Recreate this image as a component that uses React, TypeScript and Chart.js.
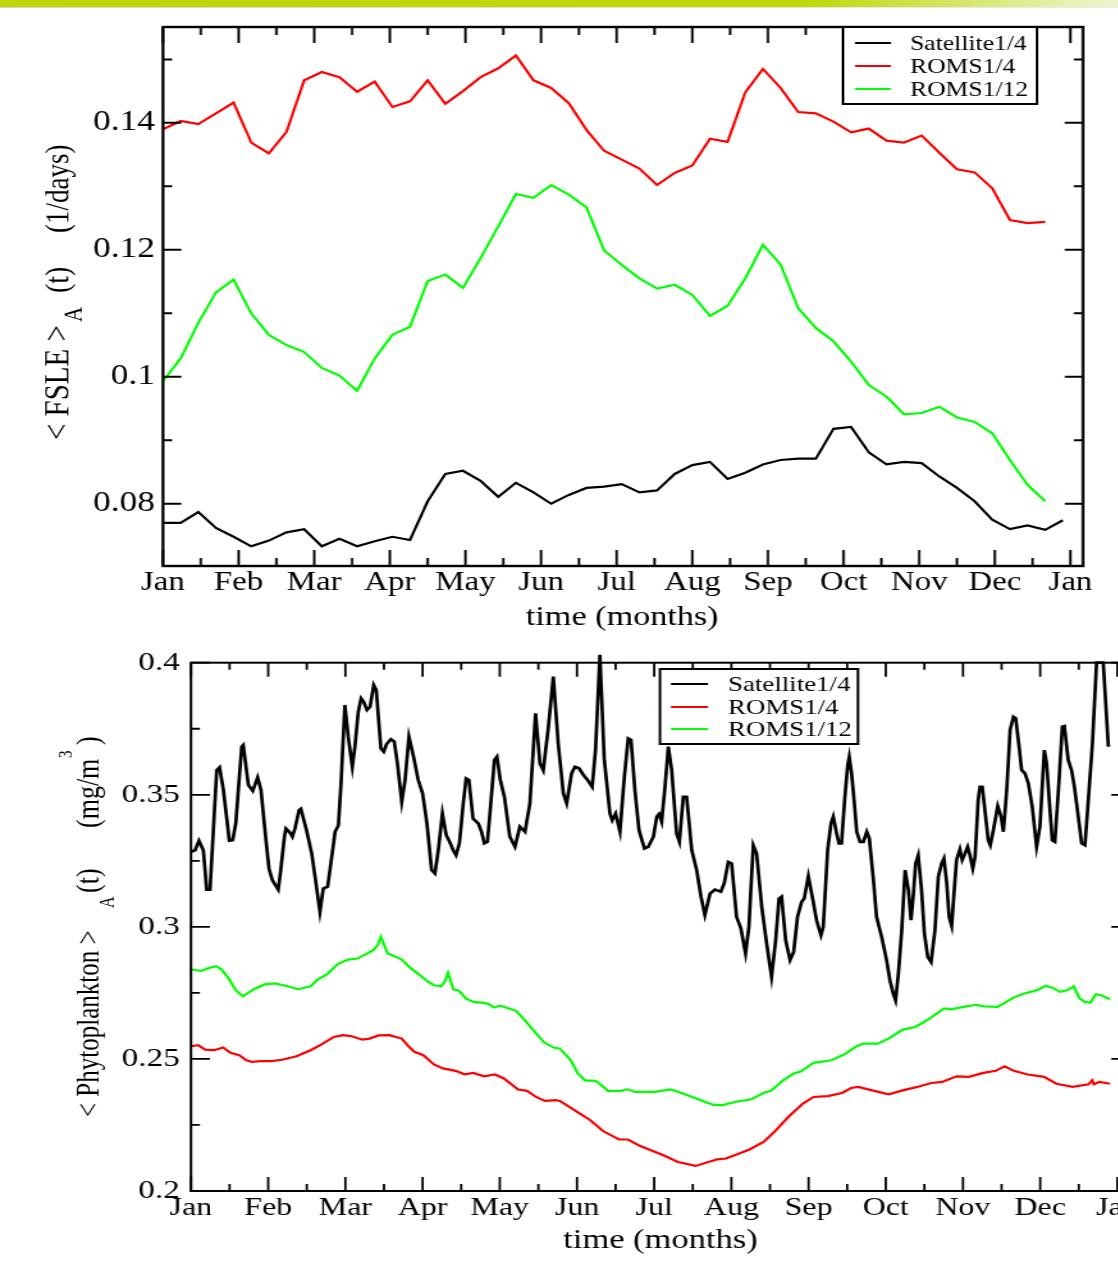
import React, { useEffect, useRef } from 'react';
import { Chart, registerables } from 'chart.js';

Chart.register(...registerables);

const FONT = '"Liberation Serif", "Times New Roman", Times, serif';

// ---------- shared axis data ----------
const monthLabels = ['Jan', 'Feb', 'Mar', 'Apr', 'May', 'Jun', 'Jul', 'Aug', 'Sep', 'Oct', 'Nov', 'Dec', 'Jan'];
const monthDays = [0, 30, 60, 90, 120, 150, 180, 210, 240, 270, 300, 330, 360];
const halfMonthDays = [15, 45, 75, 105, 135, 165, 195, 225, 255, 285, 315, 345];

// ---------- top chart: FSLE (weekly) ----------
const fsleWeekDays = [0, 7, 14, 21, 28, 35, 42, 49, 56, 63, 70, 77, 84, 91, 98, 105, 112, 119, 126, 133, 140, 147, 154, 161, 168, 175, 182, 189, 196, 203, 210, 217, 224, 231, 238, 245, 252, 259, 266, 273, 280, 287, 294, 301, 308, 315, 322, 329, 336, 343, 350, 357];
const fsleSatellite = [0.0770, 0.0770, 0.0787, 0.0762, 0.0748, 0.0733, 0.0742, 0.0755, 0.0760, 0.0733, 0.0745, 0.0733, 0.0741, 0.0748, 0.0743, 0.0804, 0.0847, 0.0852, 0.0836, 0.0811, 0.0833, 0.0818, 0.0800, 0.0814, 0.0825, 0.0827, 0.0831, 0.0818, 0.0821, 0.0847, 0.0861, 0.0866, 0.0839, 0.0849, 0.0862, 0.0869, 0.0871, 0.0871, 0.0918, 0.0921, 0.0881, 0.0862, 0.0866, 0.0864, 0.0843, 0.0825, 0.0804, 0.0775, 0.0760, 0.0766, 0.0759, 0.0774];
const fsleRoms4 = [0.1390, 0.1403, 0.1398, 0.1415, 0.1432, 0.1369, 0.1352, 0.1386, 0.1467, 0.1480, 0.1472, 0.1449, 0.1465, 0.1425, 0.1434, 0.1467, 0.1430, 0.1450, 0.1472, 0.1486, 0.1506, 0.1467, 0.1455, 0.1431, 0.1389, 0.1356, 0.1342, 0.1328, 0.1302, 0.1321, 0.1333, 0.1375, 0.1370, 0.1448, 0.1485, 0.1455, 0.1417, 0.1415, 0.1402, 0.1385, 0.1391, 0.1372, 0.1369, 0.1380, 0.1353, 0.1327, 0.1322, 0.1297, 0.1247, 0.1242, 0.1244];
const fsleRoms12 = [0.0993, 0.1029, 0.1085, 0.1133, 0.1153, 0.1100, 0.1066, 0.1050, 0.1039, 0.1014, 0.1002, 0.0978, 0.1029, 0.1066, 0.1079, 0.1151, 0.1161, 0.1140, 0.1187, 0.1237, 0.1288, 0.1282, 0.1302, 0.1287, 0.1267, 0.1199, 0.1176, 0.1155, 0.1139, 0.1145, 0.1129, 0.1096, 0.1112, 0.1155, 0.1208, 0.1177, 0.1108, 0.1077, 0.1056, 0.1024, 0.0987, 0.0969, 0.0941, 0.0943, 0.0953, 0.0936, 0.0929, 0.0911, 0.0869, 0.0830, 0.0804];
const fsleTicks = [0.08, 0.10, 0.12, 0.14];
const fsleTickLabels = ['0.08', '0.1', '0.12', '0.14'];
const fsleMinorTicks = [0.09, 0.11, 0.13, 0.15];

// ---------- bottom chart: Phytoplankton (day, value) ----------
const phytoSatellite: [number, number][] = [
  [0, 0.3284], [1.6, 0.3290], [3.1, 0.3326], [4.8, 0.3290], [6.1, 0.3141], [7.4, 0.3141], [10.0, 0.3593], [11.1, 0.3604], [12.6, 0.3518], [14.9, 0.3326],
  [16.2, 0.3328], [17.4, 0.3391], [19.7, 0.3682], [20.3, 0.3688], [22.3, 0.3537], [24.0, 0.3515], [25.9, 0.3566], [27.2, 0.3518], [29.0, 0.3341], [30.3, 0.3221],
  [31.6, 0.3177], [33.9, 0.3141], [34.8, 0.3208], [36.3, 0.3341], [36.9, 0.3372], [38.5, 0.3356], [39.4, 0.3341], [40.4, 0.3372], [42.0, 0.3442], [42.7, 0.3447],
  [44.9, 0.3366], [46.9, 0.3278], [48.4, 0.3177], [50.1, 0.3057], [51.4, 0.3145], [53.1, 0.3152], [54.7, 0.3265], [56.0, 0.3360], [57.3, 0.3385], [58.3, 0.3543],
  [59.8, 0.3840], [61.1, 0.3720], [62.7, 0.3606], [63.7, 0.3682], [65.0, 0.3814], [66.1, 0.3865], [67.1, 0.3852], [68.4, 0.3821], [69.6, 0.3833], [71.0, 0.3915],
  [72.0, 0.3896], [73.8, 0.3675], [74.9, 0.3663], [76.0, 0.3692], [77.7, 0.3710], [79.0, 0.3701], [80.3, 0.3612], [81.9, 0.3473], [83.2, 0.3556], [84.7, 0.3720],
  [86.5, 0.3644], [88.3, 0.3556], [90.0, 0.3505], [91.7, 0.3391], [93.5, 0.3215], [94.8, 0.3202], [96.1, 0.3290], [97.7, 0.3429], [99.2, 0.3347], [100.5, 0.3322],
  [101.9, 0.3290], [103.0, 0.3271], [104.3, 0.3316], [105.8, 0.3467], [106.9, 0.3562], [108.0, 0.3556], [109.6, 0.3410], [111.7, 0.3391], [112.9, 0.3360], [114.0, 0.3316],
  [115.2, 0.3322], [116.4, 0.3455], [117.9, 0.3631], [118.9, 0.3644], [120.2, 0.3556], [121.8, 0.3492],
  [123.9, 0.3341], [125.9, 0.3303], [127.8, 0.3379], [129.8, 0.3360], [131.7, 0.3467], [133.9, 0.3808], [135.6, 0.3619], [136.9, 0.3593], [138.9, 0.3758], [140.8, 0.3947],
  [142.7, 0.3694], [144.7, 0.3505], [146.0, 0.3467], [147.9, 0.3581], [149.2, 0.3606], [150.8, 0.3600], [152.5, 0.3575], [154.1, 0.3556], [155.9, 0.3530], [157.2, 0.3669],
  [158.9, 0.4030], [160.6, 0.3634], [162.8, 0.3429], [163.7, 0.3404], [165.0, 0.3429], [166.7, 0.3360], [168.4, 0.3568], [169.9, 0.3713], [171.0, 0.3707], [172.5, 0.3518],
  [174.1, 0.3366], [176.2, 0.3297], [177.7, 0.3303], [179.7, 0.3341], [181.0, 0.3417], [181.9, 0.3427], [182.9, 0.3398], [184.2, 0.3530], [185.5, 0.3682], [186.8, 0.3593],
  [188.7, 0.3353], [189.8, 0.3322], [191.3, 0.3492], [192.6, 0.3492], [194.6, 0.3290], [196.5, 0.3215], [198.2, 0.3114], [199.7, 0.3044], [201.7, 0.3126], [203.6, 0.3141],
  [205.9, 0.3133], [207.2, 0.3164], [208.8, 0.3246], [210.1, 0.3240], [212.0, 0.3038], [213.7, 0.2994], [215.5, 0.2899], [216.8, 0.3000], [218.5, 0.3309], [219.8, 0.3278],
  [221.8, 0.3076], [223.7, 0.2937], [225.6, 0.2811], [227.2, 0.2949], [228.5, 0.3107], [229.5, 0.3114], [231.1, 0.2949], [232.8, 0.2874], [234.2, 0.2905], [235.7, 0.3038],
  [237.3, 0.3095], [238.3, 0.3107], [239.9, 0.3192], [241.8, 0.3095],
  [243.1, 0.3025], [244.8, 0.2968], [245.7, 0.3000], [247.4, 0.3290], [248.7, 0.3391], [249.6, 0.3417], [250.9, 0.3353], [251.8, 0.3316], [252.8, 0.3316], [254.1, 0.3492],
  [255.2, 0.3612], [255.8, 0.3644], [256.7, 0.3581], [257.8, 0.3467], [258.7, 0.3360], [260.0, 0.3322], [261.3, 0.3322], [262.6, 0.3360], [263.6, 0.3335], [265.2, 0.3177],
  [266.4, 0.3038], [268.4, 0.2962], [270.3, 0.2874], [271.6, 0.2798], [272.9, 0.2747], [273.8, 0.2722], [274.9, 0.2823], [276.2, 0.2987], [277.5, 0.3215], [278.8, 0.3139],
  [279.8, 0.3025], [280.7, 0.3120], [281.6, 0.3240], [282.6, 0.3271], [283.9, 0.3139], [285.0, 0.2975], [286.3, 0.2886], [287.6, 0.2867], [289.1, 0.2987], [290.4, 0.3189],
  [291.7, 0.3240], [292.6, 0.3259], [293.7, 0.3164], [294.6, 0.3038], [295.6, 0.3003], [296.6, 0.3139], [297.5, 0.3253], [298.8, 0.3293], [299.7, 0.3253], [300.8, 0.3278],
  [301.8, 0.3303], [302.7, 0.3271], [303.8, 0.3221], [304.7, 0.3265], [305.9, 0.3480], [306.6, 0.3530], [307.5, 0.3530], [308.8, 0.3417], [309.8, 0.3328], [310.6, 0.3309],
  [311.8, 0.3366], [313.5, 0.3457], [314.8, 0.3417], [315.7, 0.3360], [317.0, 0.3518], [318.3, 0.3745], [319.6, 0.3795], [320.5, 0.3789], [321.8, 0.3682], [322.8, 0.3593],
  [324.1, 0.3581], [325.4, 0.3543], [326.9, 0.3455], [328.6, 0.3303], [329.9, 0.3379], [331.6, 0.3669], [332.5, 0.3619], [333.8, 0.3442], [334.7, 0.3328], [335.7, 0.3322],
  [337.0, 0.3505], [338.6, 0.3758], [339.4, 0.3760], [340.9, 0.3631], [342.2, 0.3593], [343.3, 0.3530], [344.8, 0.3417], [346.1, 0.3316], [347.4, 0.3309], [348.7, 0.3480],
  [350.3, 0.3694], [351.9, 0.4000], [354.5, 0.4000], [356.5, 0.3682],
];
const phytoRoms4: [number, number][] = [
  [0, 0.2548], [2.8, 0.2552], [5.5, 0.2535], [9.0, 0.2533], [12.5, 0.2543], [15.3, 0.2523], [18.8, 0.2514], [21.5, 0.2495], [23.6, 0.2489], [27.1, 0.2492],
  [31.3, 0.2492], [35.4, 0.2497], [41.0, 0.2510], [46.5, 0.2533], [50.7, 0.2555], [55.5, 0.2583], [59.0, 0.2590], [62.5, 0.2586], [66.6, 0.2573], [69.4, 0.2577],
  [72.9, 0.2589], [77.1, 0.2590], [81.9, 0.2577], [84.7, 0.2546], [86.8, 0.2527], [90.3, 0.2514], [94.4, 0.2479], [97.9, 0.2464], [102.8, 0.2455], [106.3, 0.2442],
  [109.7, 0.2447], [113.9, 0.2434], [118.1, 0.2441], [121.6, 0.2426], [127.1, 0.2384], [130.6, 0.2379], [134.1, 0.2356], [137.6, 0.2341], [141.7, 0.2344], [143.4, 0.2341],
  [149.0, 0.2306], [155.2, 0.2268], [160.1, 0.2227], [166.3, 0.2195], [169.8, 0.2195], [174.6, 0.2170], [183.6, 0.2135], [189.2, 0.2110], [196.1, 0.2095], [204.5, 0.2120],
  [207.9, 0.2123], [212.8, 0.2141], [217.0, 0.2157], [222.5, 0.2186], [226.7, 0.2224], [232.2, 0.2281], [237.8, 0.2331], [241.9, 0.2356], [247.5, 0.2359], [253.0, 0.2371],
  [256.5, 0.2390], [259.3, 0.2394], [265.5, 0.2379], [271.1, 0.2366], [276.6, 0.2381], [282.2, 0.2394], [287.7, 0.2409], [291.9, 0.2413], [297.5, 0.2434], [302.3, 0.2432],
  [307.9, 0.2447], [312.7, 0.2455], [316.2, 0.2472], [319.7, 0.2455], [325.2, 0.2441], [331.5, 0.2432], [336.3, 0.2406], [342.6, 0.2394], [348.8, 0.2404], [350.2, 0.2419],
  [350.9, 0.2404], [353.0, 0.2413], [357.1, 0.2406],
];
const phytoRoms12: [number, number][] = [
  [0, 0.2839], [3.9, 0.2833], [6.3, 0.2842], [9.7, 0.2851], [11.8, 0.2839], [14.6, 0.2805], [17.4, 0.2760], [20.2, 0.2737], [24.3, 0.2763], [28.5, 0.2782],
  [32.6, 0.2786], [36.8, 0.2777], [41.7, 0.2764], [46.5, 0.2775], [49.3, 0.2801], [52.8, 0.2820], [57.0, 0.2859], [61.1, 0.2876], [64.6, 0.2880], [68.0, 0.2897],
  [70.8, 0.2912], [72.6, 0.2931], [73.8, 0.2962], [76.4, 0.2899], [79.1, 0.2889], [81.9, 0.2876], [84.7, 0.2849], [88.2, 0.2823], [91.6, 0.2796], [94.4, 0.2779],
  [97.2, 0.2775], [98.6, 0.2792], [99.9, 0.2826], [102.0, 0.2763], [104.1, 0.2758], [106.8, 0.2729], [109.7, 0.2716], [113.8, 0.2712], [115.9, 0.2707], [117.6, 0.2695],
  [120.1, 0.2702], [122.9, 0.2693], [126.3, 0.2682], [129.8, 0.2646], [133.9, 0.2599], [137.4, 0.2561], [140.9, 0.2543], [143.4, 0.2539], [147.6, 0.2495], [150.3, 0.2445],
  [153.1, 0.2419], [157.3, 0.2417], [162.1, 0.2379], [166.3, 0.2378], [169.8, 0.2385], [172.5, 0.2375], [180.2, 0.2375], [186.4, 0.2385], [190.6, 0.2371], [194.8, 0.2356],
  [198.9, 0.2341], [203.1, 0.2326], [206.6, 0.2325], [211.4, 0.2337], [217.7, 0.2347], [222.5, 0.2371], [225.3, 0.2379], [230.1, 0.2419], [234.3, 0.2445], [237.1, 0.2453],
  [241.9, 0.2485], [248.9, 0.2495], [254.4, 0.2520], [258.6, 0.2548], [261.4, 0.2558], [266.9, 0.2558], [271.1, 0.2577], [276.6, 0.2611], [281.5, 0.2621], [286.4, 0.2649],
  [292.6, 0.2691], [295.4, 0.2688], [300.2, 0.2697], [305.1, 0.2705], [307.9, 0.2699], [313.4, 0.2697], [316.9, 0.2716], [319.7, 0.2733], [323.8, 0.2748], [328.7, 0.2760],
  [332.2, 0.2777], [334.9, 0.2769], [337.7, 0.2754], [340.5, 0.2760], [343.0, 0.2775], [345.3, 0.2729], [347.4, 0.2716], [349.5, 0.2713], [351.6, 0.2745], [353.7, 0.2741],
  [357.1, 0.2726],
];
const phytoTicks = [0.2, 0.25, 0.3, 0.35, 0.4];
const phytoTickLabels = ['0.2', '0.25', '0.3', '0.35', '0.4'];
const phytoMinorTicks = [0.225, 0.275, 0.325, 0.375];

const seriesNames = ['Satellite1/4', 'ROMS1/4', 'ROMS1/12'];
const seriesColors = ['#000000', '#ff0000', '#00ff00'];

type TitlePiece = { text: string; size: number; start: number; off: number };
type Decor = {
  yMajor: number[]; yMinor: number[];
  majV: number; minV: number; majH: number; minH: number;
  tickW: number; frameW: number;
  legend: { x0: number; y0: number; x1: number; y1: number; lx0: number; lx1: number; tx: number; rows: number[]; size: number; lineW: number };
  xTitle: { text: string; x: number; y: number; size: number };
  yTitleX: number; yTitle: TitlePiece[];
};

function decorPlugin(id: string, d: Decor) {
  return {
    id,
    afterDatasetsDraw(chart: any) {
      const { ctx, chartArea: a, scales } = chart;
      const xs = scales.x;
      const ys = scales.y;
      ctx.save();
      ctx.strokeStyle = '#000';
      ctx.lineWidth = d.tickW;
      ctx.beginPath();
      const vt = (v: number, len: number) => {
        const px = xs.getPixelForValue(v);
        ctx.moveTo(px, a.bottom); ctx.lineTo(px, a.bottom - len);
        ctx.moveTo(px, a.top); ctx.lineTo(px, a.top + len);
      };
      const ht = (v: number, len: number) => {
        const py = ys.getPixelForValue(v);
        ctx.moveTo(a.left, py); ctx.lineTo(a.left + len, py);
        ctx.moveTo(a.right, py); ctx.lineTo(a.right - len, py);
      };
      monthDays.forEach((v) => vt(v, d.majV));
      halfMonthDays.forEach((v) => vt(v, d.minV));
      d.yMajor.forEach((v) => ht(v, d.majH));
      d.yMinor.forEach((v) => ht(v, d.minH));
      ctx.stroke();
      ctx.lineWidth = d.frameW;
      ctx.strokeRect(a.left, a.top, a.right - a.left, a.bottom - a.top);

      // legend
      const L = d.legend;
      ctx.fillStyle = '#fff';
      ctx.fillRect(L.x0, L.y0, L.x1 - L.x0, L.y1 - L.y0);
      ctx.strokeStyle = '#000';
      ctx.lineWidth = 2;
      ctx.strokeRect(L.x0, L.y0, L.x1 - L.x0, L.y1 - L.y0);
      chart.data.datasets.forEach((ds: any, i: number) => {
        const y = L.rows[i];
        ctx.strokeStyle = ds.borderColor;
        ctx.lineWidth = L.lineW;
        ctx.beginPath(); ctx.moveTo(L.lx0, y); ctx.lineTo(L.lx1, y); ctx.stroke();
        ctx.fillStyle = '#000';
        ctx.font = `${L.size}px ${FONT}`;
        ctx.textAlign = 'left';
        ctx.textBaseline = 'middle';
        ctx.fillText(ds.label, L.tx, y + 1);
      });

      // x title
      ctx.fillStyle = '#000';
      ctx.font = `${d.xTitle.size}px ${FONT}`;
      ctx.textAlign = 'center';
      ctx.textBaseline = 'alphabetic';
      ctx.fillText(d.xTitle.text, d.xTitle.x, d.xTitle.y);

      // y title (rotated, with sub/superscripts)
      for (const p of d.yTitle) {
        ctx.save();
        ctx.translate(d.yTitleX + p.off, p.start);
        ctx.rotate(-Math.PI / 2);
        ctx.font = `${p.size}px ${FONT}`;
        ctx.textAlign = 'left';
        ctx.textBaseline = 'alphabetic';
        ctx.fillText(p.text, 0, 0);
        ctx.restore();
      }
      ctx.restore();
    },
  };
}

function baseScales(opts: {
  yMin: number; yMax: number; yTicks: number[]; yLabels: string[];
  yWidth: number; xHeight: number; xTickSize: number; yTickSize: number; xPad: number; yPad: number;
}) {
  return {
    x: {
      type: 'linear', min: 0, max: 365,
      afterBuildTicks: (s: any) => { s.ticks = monthDays.map((v) => ({ value: v })); },
      afterFit: (s: any) => { s.height = opts.xHeight; s.paddingLeft = 0; s.paddingRight = 0; },
      grid: { display: false, drawTicks: false },
      border: { display: false },
      ticks: {
        font: { family: FONT, size: opts.xTickSize }, color: '#000', padding: opts.xPad,
        autoSkip: false, maxRotation: 0, minRotation: 0,
        callback: (_v: any, i: number) => monthLabels[i],
      },
    },
    y: {
      type: 'linear', min: opts.yMin, max: opts.yMax,
      afterBuildTicks: (s: any) => { s.ticks = opts.yTicks.map((v) => ({ value: v })); },
      afterFit: (s: any) => { s.width = opts.yWidth; s.paddingTop = 0; s.paddingBottom = 0; },
      grid: { display: false, drawTicks: false },
      border: { display: false },
      ticks: {
        font: { family: FONT, size: opts.yTickSize }, color: '#000', padding: opts.yPad,
        autoSkip: false,
        callback: (_v: any, i: number) => opts.yLabels[i],
      },
    },
  };
}

const S_TOP = 1.22;
const S_BOT = 1.28;

function topConfig(): any {
  const series = [fsleSatellite, fsleRoms4, fsleRoms12];
  return {
    type: 'line',
    data: {
      datasets: series.map((arr, k) => ({
        label: seriesNames[k],
        data: arr.map((v, i) => ({ x: fsleWeekDays[i], y: v })),
        borderColor: seriesColors[k],
        borderWidth: 2.2,
        pointRadius: 0,
        tension: 0,
        fill: false,
      })),
    },
    options: {
      responsive: false, animation: false, devicePixelRatio: 1,
      layout: { padding: { left: 0, right: 29.3, top: 17, bottom: 0 } },
      plugins: { legend: { display: false }, tooltip: { enabled: false }, title: { display: false } },
      scales: baseScales({ yMin: 0.0702, yMax: 0.1551, yTicks: fsleTicks, yLabels: fsleTickLabels, yWidth: 133.6, xHeight: 74, xTickSize: 27, yTickSize: 29, xPad: 1, yPad: 6.6 }),
    },
    plugins: [decorPlugin('decorTop', {
      yMajor: fsleTicks, yMinor: fsleMinorTicks,
      majV: 16, minV: 8, majH: 15, minH: 7.5, tickW: 2, frameW: 2.4,
      legend: { x0: 691, y0: 17, x1: 850, y1: 94, lx0: 700.8, lx1: 730.3, tx: 745.9, rows: [33, 56, 79], size: 21, lineW: 2 },
      xTitle: { text: 'time (months)', x: 510, y: 615, size: 28 },
      yTitleX: 56.3,
      yTitle: [
        { text: '< FSLE >', size: 29, start: 430, off: 0 },
        { text: 'A', size: 21, start: 312, off: 11 },
        { text: '(t)', size: 28, start: 283, off: 0 },
        { text: '(1/days)', size: 27, start: 223, off: 0 },
      ],
    })],
  };
}

function botConfig(): any {
  const series = [phytoSatellite, phytoRoms4, phytoRoms12];
  return {
    type: 'line',
    data: {
      datasets: series.map((arr, k) => ({
        label: seriesNames[k],
        data: arr.map(([d, v]) => ({ x: d, y: v })),
        borderColor: seriesColors[k],
        borderWidth: k === 0 ? 2.7 : 2.2,
        pointRadius: 0,
        tension: 0,
        fill: false,
        clip: { left: 0, top: 10, right: 0, bottom: 0 },
      })),
    },
    options: {
      responsive: false, animation: false, devicePixelRatio: 1,
      layout: { padding: { left: 0, right: 22, top: 22.7, bottom: 0 } },
      plugins: { legend: { display: false }, tooltip: { enabled: false }, title: { display: false } },
      scales: baseScales({ yMin: 0.2, yMax: 0.4, yTicks: phytoTicks, yLabels: phytoTickLabels, yWidth: 149.2, xHeight: 76, xTickSize: 25, yTickSize: 26, xPad: 2, yPad: 8.6 }),
    },
    plugins: [decorPlugin('decorBot', {
      yMajor: phytoTicks, yMinor: phytoMinorTicks,
      majV: 14, minV: 7, majH: 14.8, minH: 7, tickW: 1.8, frameW: 2,
      legend: { x0: 515.6, y0: 29, x1: 670.3, y1: 104, lx0: 524.2, lx1: 553.1, tx: 568.75, rows: [44, 67, 89], size: 21, lineW: 2 },
      xTitle: { text: 'time (months)', x: 516, y: 608, size: 27 },
      yTitleX: 77,
      yTitle: [
        { text: '< Phytoplankton >', size: 25, start: 477, off: 0 },
        { text: 'A', size: 16, start: 268, off: 12 },
        { text: '(t)', size: 26, start: 253, off: 0 },
        { text: '(mg/m', size: 26, start: 188, off: 0 },
        { text: '3', size: 15, start: 118, off: -21 },
        { text: ')', size: 26, start: 105, off: 0 },
      ],
    })],
  };
}

export default function App() {
  const topRef = useRef<HTMLCanvasElement>(null);
  const botRef = useRef<HTMLCanvasElement>(null);

  useEffect(() => {
    const c1 = new Chart(topRef.current as HTMLCanvasElement, topConfig());
    const c2 = new Chart(botRef.current as HTMLCanvasElement, botConfig());
    return () => { c1.destroy(); c2.destroy(); };
  }, []);

  return (
    <div style={{ position: 'absolute', left: 0, top: 0, width: 1118, height: 1267, overflow: 'hidden', background: '#ffffff' }}>
      <div style={{ position: 'absolute', left: 0, top: 0, width: 1118, height: 7, background: 'linear-gradient(to right, #bdd806 0%, #bdd806 72%, #eef5d0 100%)' }} />
      <div style={{ position: 'absolute', left: 0, top: 7, width: 1118, height: 1, background: 'linear-gradient(to right, #d4d4d4, #ececec)' }} />
      <div style={{ position: 'absolute', left: 0, top: 10, transform: `scaleX(${S_TOP})`, transformOrigin: '0 0' }}>
        <canvas ref={topRef} width={917} height={630} style={{ display: 'block', width: 917, height: 630 }} />
      </div>
      <div style={{ position: 'absolute', left: 0, top: 640, transform: `scaleX(${S_BOT})`, transformOrigin: '0 0' }}>
        <canvas ref={botRef} width={905} height={627} style={{ display: 'block', width: 905, height: 627 }} />
      </div>
    </div>
  );
}
